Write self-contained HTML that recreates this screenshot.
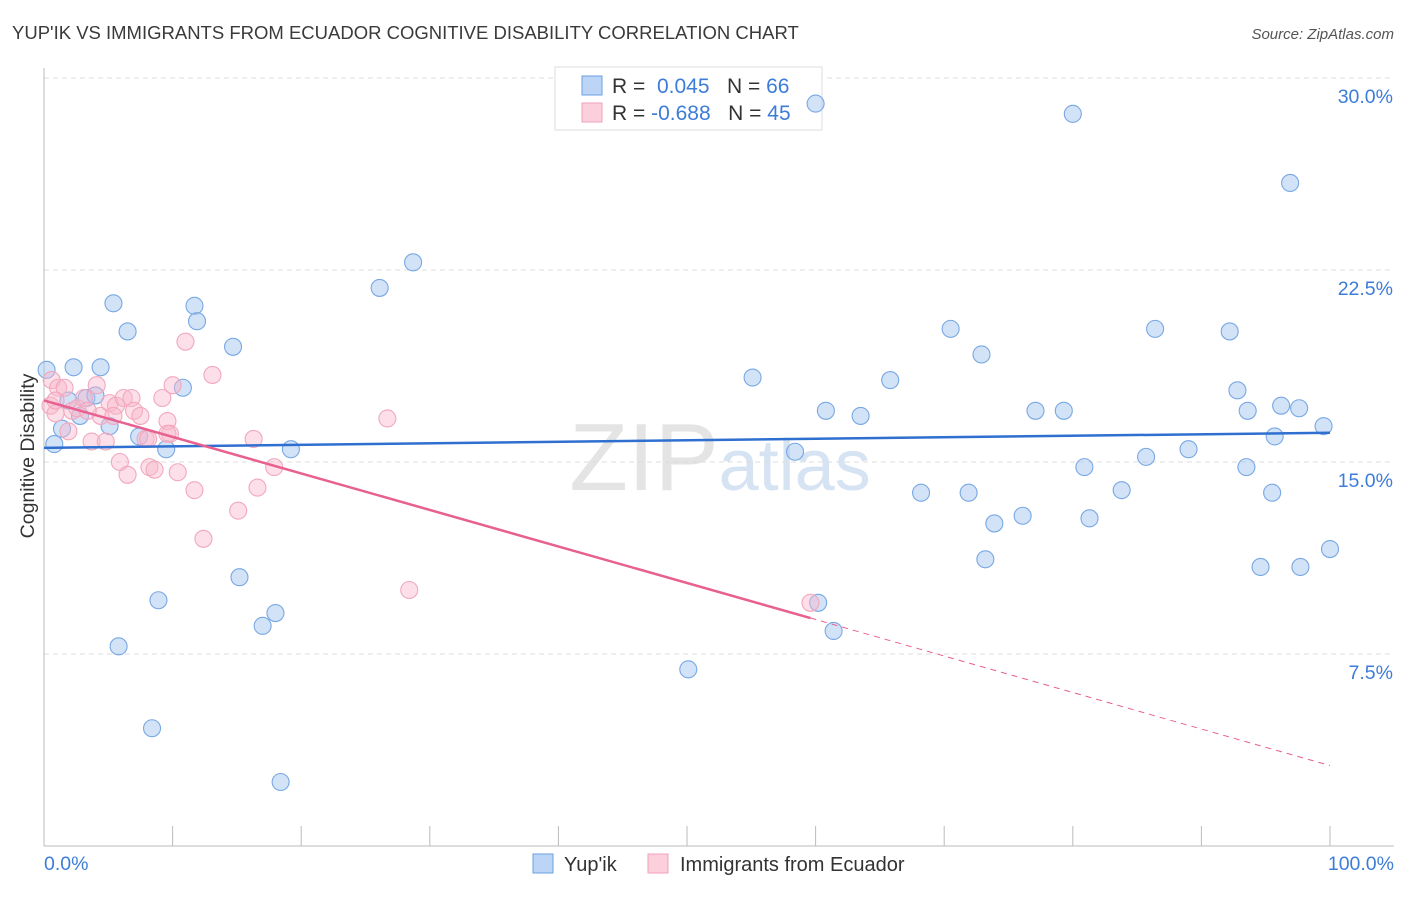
<!DOCTYPE html>
<html><head><meta charset="utf-8"><style>
body{margin:0;background:#fff;font-family:"Liberation Sans",sans-serif;}
svg text{font-family:"Liberation Sans",sans-serif;}
</style></head><body>
<svg id="chart" width="1406" height="892" xmlns="http://www.w3.org/2000/svg">
<text x="12" y="39" font-size="18.5" fill="#3a3a3a">YUP'IK VS IMMIGRANTS FROM ECUADOR COGNITIVE DISABILITY CORRELATION CHART</text>
<text x="1394" y="39" font-size="15" fill="#555" text-anchor="end" font-style="italic">Source: ZipAtlas.com</text>
<text x="720" y="490" font-size="96" fill="#e4e4e4" text-anchor="middle" font-family="Liberation Serif">ZIP<tspan fill="#d6e3f3" font-family="Liberation Sans" font-size="72">atlas</tspan></text>
<g id="grid"></g>
<g id="axes"></g>
<g>
<rect x="555" y="67" width="267" height="63" fill="#fff" stroke="#ddd"/>
<rect x="582" y="76" width="20" height="19" fill="#bcd4f5" stroke="#6a9fe0"/>
<rect x="582" y="103" width="20" height="19" fill="#fbd0dc" stroke="#f0a0b8"/>
<text x="612" y="93" font-size="21" fill="#333">R = <tspan fill="#3d7dd8">&#160;0.045</tspan>&#160;&#160;&#160;N = <tspan fill="#3d7dd8">66</tspan></text>
<text x="612" y="120" font-size="21" fill="#333">R = <tspan fill="#3d7dd8">-0.688</tspan>&#160;&#160;&#160;N = <tspan fill="#3d7dd8">45</tspan></text>
</g>
<g id="pts"></g>
<g id="trends"></g>
<text transform="translate(34,456) rotate(-90)" font-size="19.5" fill="#333" text-anchor="middle">Cognitive Disability</text>
<text x="44" y="870" font-size="19.5" fill="#3d7dd8">0.0%</text>
<text x="1394" y="870" font-size="19.5" fill="#3d7dd8" text-anchor="end">100.0%</text>
<g>
<rect x="533" y="854" width="20" height="19" fill="#bcd4f5" stroke="#6a9fe0"/>
<text x="564" y="871" font-size="20" fill="#333">Yup'ik</text>
<rect x="648" y="854" width="20" height="19" fill="#fbd0dc" stroke="#f0a0b8"/>
<text x="680" y="871" font-size="20" fill="#333">Immigrants from Ecuador</text>
</g>
</svg>
<script>
const yTicks=[7.5,15,22.5,30];
const yTickLabels=["7.5%","15.0%","22.5%","30.0%"];
const blueX=[0.2,0.8,1.4,1.9,2.3,2.8,3.3,4.0,4.4,5.1,5.4,5.8,6.5,7.4,8.4,8.9,9.5,10.8,11.7,11.9,14.7,15.2,17.0,18.0,18.4,19.2,26.1,28.7,50.1,55.1,58.4,60.0,60.2,60.8,61.4,63.5,65.8,68.2,70.5,71.9,72.9,73.2,73.9,76.1,77.1,79.3,80.0,80.9,81.3,83.8,85.7,86.4,89.0,92.2,92.8,93.5,93.6,94.6,95.5,95.7,96.2,96.9,97.6,97.7,99.5,100];
const blueY=[18.6,15.7,16.3,17.4,18.7,16.8,17.5,17.6,18.7,16.4,21.2,7.8,20.1,16.0,4.6,9.6,15.5,17.9,21.1,20.5,19.5,10.5,8.6,9.1,2.5,15.5,21.8,22.8,6.9,18.3,15.4,29.0,9.5,17.0,8.4,16.8,18.2,13.8,20.2,13.8,19.2,11.2,12.6,12.9,17.0,17.0,28.6,14.8,12.8,13.9,15.2,20.2,15.5,20.1,17.8,14.8,17.0,10.9,13.8,16.0,17.2,25.9,17.1,10.9,16.4,11.6];
const pinkX=[0.5,0.6,0.9,1.1,1.6,1.9,2.2,2.6,3.1,3.7,4.1,4.4,4.8,5.1,5.6,5.9,6.2,6.5,6.8,7.0,7.5,7.9,8.2,8.6,9.2,9.6,9.8,10.0,10.4,11.0,11.7,12.4,13.1,15.1,16.3,16.6,17.9,26.7,28.4,59.6,0.9,3.4,5.4,8.1,9.6];
const pinkY=[17.2,18.2,16.9,17.9,17.9,16.2,17.0,17.1,17.5,15.8,18.0,16.8,15.8,17.3,17.2,15.0,17.5,14.5,17.5,17.0,16.8,15.9,14.8,14.7,17.5,16.6,16.1,18.0,14.6,19.7,13.9,12.0,18.4,13.1,15.9,14.0,14.8,16.7,10.0,9.5,17.4,17.0,16.8,15.9,16.1];
const NS='http://www.w3.org/2000/svg';
const X0=44,X1=1330,Y0=846,PX=25.6;
const sx=v=>X0+(X1-X0)*v/100, sy=v=>Y0-v*PX;
function mk(tag,attrs,parent){const e=document.createElementNS(NS,tag);for(const k in attrs)e.setAttribute(k,attrs[k]);parent.appendChild(e);return e;}
const grid=document.getElementById('grid'),axes=document.getElementById('axes');
yTicks.forEach((t,i)=>{
 const l=mk('line',{x1:44,x2:1394,y1:sy(t),y2:sy(t),stroke:'#ddd','stroke-dasharray':'5,4'},grid);
 
 
 const tx=mk('text',{x:1393,y:sy(t)+25,'font-size':19.5,fill:'#3d7dd8','text-anchor':'end'},grid);
 tx.textContent=yTickLabels[i];
 
 
});
const ya=mk('line',{x1:44,x2:44,y1:68,y2:846,stroke:'#bbb'},axes);


const xa=mk('line',{x1:44,x2:1394,y1:846,y2:846,stroke:'#bbb'},axes);


for(let i=0;i<=10;i++){const tk=mk('line',{x1:sx(i*10),x2:sx(i*10),y1:826,y2:846,stroke:'#bbb'},axes);
 
 }
const pts=document.getElementById('pts');
function drawPts(xs,ys,fill,stroke,name){xs.forEach((x,i)=>{const c=mk('circle',{cx:sx(x),cy:sy(ys[i]),r:8.5,fill:fill,stroke:stroke,'stroke-width':1.1},pts);
 
 });}
drawPts(blueX,blueY,'rgba(165,198,240,0.5)','#78a8e4','yupik-point');
drawPts(pinkX,pinkY,'rgba(248,185,205,0.45)','#f2a8be','ecuador-point');
function reg(xs,ys){const n=xs.length;let mx=0,my=0;for(let i=0;i<n;i++){mx+=xs[i];my+=ys[i];}mx/=n;my/=n;let a=0,b=0;for(let i=0;i<n;i++){a+=(xs[i]-mx)*(ys[i]-my);b+=(xs[i]-mx)**2;}const m=a/b;return x=>my+m*(x-mx);}
const tr=document.getElementById('trends');
const fb=reg(blueX,blueY);
const bl=mk('line',{x1:sx(0),y1:sy(fb(0)),x2:sx(100),y2:sy(fb(100)),stroke:'#2f6fd0','stroke-width':2.5},tr);


const fp=reg(pinkX,pinkY);const pmax=Math.max(...pinkX);
const pl=mk('line',{x1:sx(0),y1:sy(fp(0)),x2:sx(pmax),y2:sy(fp(pmax)),stroke:'#e8608f','stroke-width':2.5},tr);


const pd=mk('line',{x1:sx(pmax),y1:sy(fp(pmax)),x2:sx(100),y2:sy(fp(100)),stroke:'#e8608f','stroke-width':1,'stroke-dasharray':'6,5'},tr);


</script>
</body></html>
